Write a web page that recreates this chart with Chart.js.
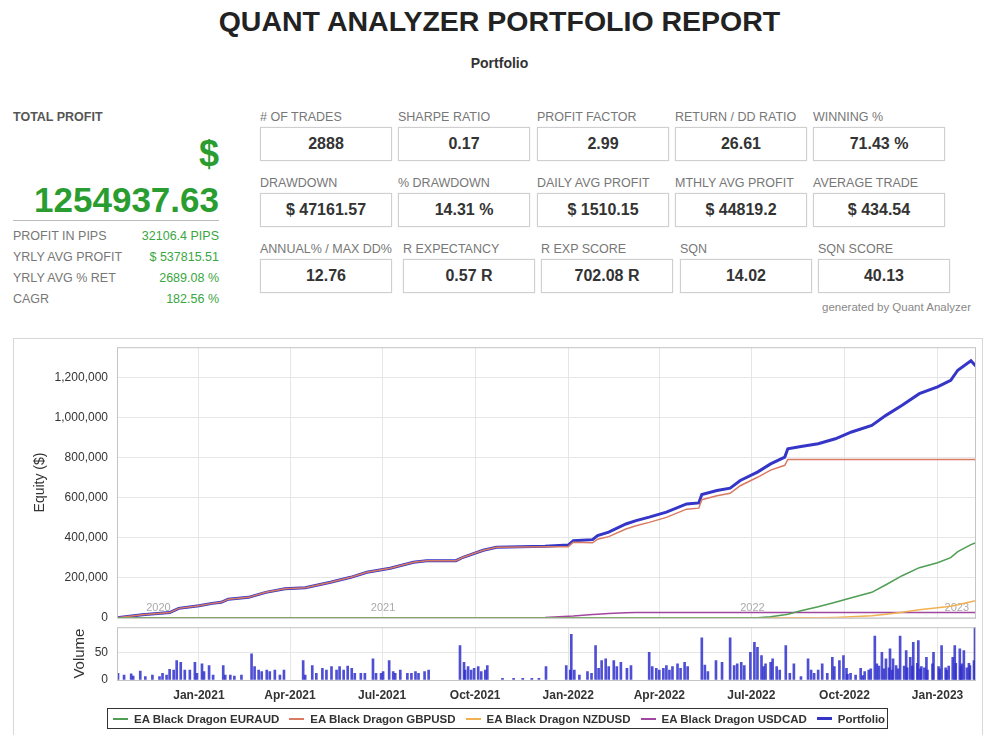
<!DOCTYPE html>
<html>
<head>
<meta charset="utf-8">
<script src="https://cdn.jsdelivr.net/npm/chart.js@4.4.0/dist/chart.umd.min.js"></script>
<style>
  body { margin: 0; width: 999px; height: 735px; overflow: hidden; background: #fff; position: relative;
         font-family: "Liberation Sans", Arial, sans-serif; }
  .abs { position: absolute; white-space: nowrap; }
  .title { left: 0; width: 999px; top: 5px; text-align: center; font-size: 28.5px; font-weight: bold; color: #222; }
  .sub { left: 0; width: 999px; top: 55px; text-align: center; font-size: 14px; font-weight: bold; color: #333; }
  .lbl { font-size: 12.5px; color: #777; }
  .box { border: 1px solid #cfcfcf; box-shadow: 0 0 1px #ddd; width: 130px; height: 32px; line-height: 32px;
         text-align: center; font-size: 16px; font-weight: bold; color: #333; }
  .green { color: #3aa63f; }
  #panel { left: 13px; top: 338px; width: 968px; height: 420px; border: 1px solid #d8d8d8; }
  #legend { left: 107px; top: 708px; width: 781px; height: 21px; border: 1px solid #333; display: flex;
            align-items: center; padding-left: 5px; box-sizing: border-box; font-size: 11.5px; font-weight: bold; color: #333; }
  #legend span.item { display: flex; align-items: center; margin-right: 10px; }
  #legend span.mark { display: inline-block; width: 15px; height: 2px; margin-right: 6px; }
</style>
</head>
<body>
<div class="abs title">QUANT ANALYZER PORTFOLIO REPORT</div>
<div class="abs sub">Portfolio</div>
<div id="left"></div>
<div id="stats"></div>
<div class="abs" style="left:822px;top:301px;font-size:11.5px;color:#888;">generated by Quant Analyzer</div>
<div class="abs" id="panel"></div>
<canvas id="equity" class="abs" width="970" height="303" style="left:13px;top:331px;"></canvas>
<canvas id="volume" class="abs" width="970" height="96" style="left:13px;top:611px;"></canvas>
<div class="abs" id="legend"></div>

<script>
// equity curves
const startDate = '2020-10-12';
const endDate = '2023-02-08';

const equityDates = [
  '2020-10-12', '2020-11-06', '2020-12-03', '2020-12-12', '2021-01-01', '2021-01-14', '2021-01-23',
  '2021-01-30', '2021-02-19', '2021-03-08', '2021-03-27', '2021-04-16', '2021-05-11', '2021-05-31',
  '2021-06-16', '2021-07-09', '2021-08-01', '2021-08-14', '2021-09-12', '2021-09-19', '2021-10-09',
  '2021-10-22', '2021-12-09', '2022-01-01', '2022-01-06', '2022-01-25', '2022-01-30', '2022-02-10',
  '2022-02-27', '2022-03-09', '2022-03-22', '2022-04-08', '2022-04-28', '2022-05-10', '2022-05-13',
  '2022-05-28', '2022-06-10', '2022-06-20', '2022-07-07', '2022-07-20', '2022-08-03', '2022-08-06',
  '2022-08-19', '2022-09-05', '2022-09-22', '2022-10-08', '2022-10-28', '2022-11-11', '2022-11-27',
  '2022-12-14', '2023-01-01', '2023-01-14', '2023-01-21', '2023-02-03', '2023-02-08'
];
const portfolio = [
  0, 15000, 26000, 47000, 60000, 72000, 77000,
  93000, 102000, 127000, 145000, 150000, 177000, 202000,
  227000, 247000, 277000, 285000, 285000, 302000, 337000,
  352000, 357000, 363000, 385000, 390000, 410000, 427000,
  468000, 485000, 502000, 527000, 568000, 573000, 615000,
  635000, 647000, 685000, 727000, 768000, 802000, 843000,
  855000, 868000, 893000, 927000, 960000, 1010000, 1060000,
  1118000, 1152000, 1185000, 1235000, 1282000, 1255000
];
const gbpUsd = [
  0, 15000, 26000, 47000, 60000, 72000, 77000,
  93000, 102000, 127000, 145000, 150000, 177000, 202000,
  227000, 247000, 277000, 285000, 285000, 302000, 337000,
  352000, 355000, 355000, 377000, 374000, 392000, 405000,
  443000, 459000, 476000, 501000, 542000, 547000, 589000,
  609000, 621000, 659000, 701000, 737000, 761000, 790000,
  790000, 790000, 790000, 790000, 790000, 790000, 790000,
  790000, 790000, 790000, 790000, 790000, 790000
];
const usdCad = [
  0, 0, 0, 0, 0, 0, 0,
  0, 0, 0, 0, 0, 0, 0,
  0, 0, 0, 0, 0, 0, 0,
  0, 2000, 8000, 9000, 16000, 18000, 22000,
  25000, 26000, 26000, 26000, 26000, 26000, 26000,
  26000, 26000, 26000, 26000, 26000, 26000, 26000,
  26000, 26000, 26000, 26000, 26000, 26000, 26000,
  26000, 26000, 26000, 26000, 26000, 26000
];
const eurAud = [
  0, 0, 0, 0, 0, 0, 0,
  0, 0, 0, 0, 0, 0, 0,
  0, 0, 0, 0, 0, 0, 0,
  0, 0, 0, 0, 0, 0, 0,
  0, 0, 0, 0, 0, 0, 0,
  0, 0, 0, 0, 5000, 15000, 18000,
  35000, 55000, 78000, 100000, 127000, 165000, 210000,
  250000, 275000, 300000, 330000, 365000, 375000
];
const nzdUsd = [
  0, 0, 0, 0, 0, 0, 0,
  0, 0, 0, 0, 0, 0, 0,
  0, 0, 0, 0, 0, 0, 0,
  0, 0, 0, 0, 0, 0, 0,
  0, 0, 0, 0, 0, 0, 0,
  0, 0, 0, 0, 0, 0, 0,
  0, 0, 2000, 5000, 10000, 18000, 28000,
  40000, 50000, 58000, 65000, 80000, 85000
];

// trades per day (volume panel)
const volDates = [
  '2020-10-13', '2020-10-19', '2020-10-26', '2020-10-28', '2020-11-04', '2020-11-09', '2020-11-16',
  '2020-11-23', '2020-11-26', '2020-11-30', '2020-12-03', '2020-12-07', '2020-12-10', '2020-12-14',
  '2020-12-18', '2020-12-23', '2020-12-28', '2020-12-30', '2021-01-04', '2021-01-06', '2021-01-11',
  '2021-01-15', '2021-01-25', '2021-01-27', '2021-02-01', '2021-02-05', '2021-02-12', '2021-02-22',
  '2021-02-25', '2021-03-01', '2021-03-04', '2021-03-09', '2021-03-12', '2021-03-17', '2021-03-22',
  '2021-03-26', '2021-04-14', '2021-04-16', '2021-04-23', '2021-04-27', '2021-05-03', '2021-05-07',
  '2021-05-12', '2021-05-17', '2021-05-20', '2021-05-24', '2021-05-28', '2021-06-01', '2021-06-04',
  '2021-06-10', '2021-06-14', '2021-06-22', '2021-06-25', '2021-06-30', '2021-07-02', '2021-07-08',
  '2021-07-12', '2021-07-14', '2021-07-19', '2021-07-26', '2021-07-30', '2021-08-03', '2021-08-06',
  '2021-08-12', '2021-08-16', '2021-09-16', '2021-09-20', '2021-09-21', '2021-09-24', '2021-09-27',
  '2021-09-30', '2021-10-04', '2021-10-07', '2021-10-11', '2021-10-13', '2021-10-28', '2021-11-08',
  '2021-11-17', '2021-11-26', '2021-12-03', '2021-12-10', '2021-12-30', '2022-01-03', '2022-01-04',
  '2022-01-07', '2022-01-12', '2022-01-20', '2022-01-24', '2022-01-28', '2022-01-31', '2022-02-03',
  '2022-02-07', '2022-02-10', '2022-02-15', '2022-02-18', '2022-02-22', '2022-02-28', '2022-03-04',
  '2022-03-22', '2022-03-25', '2022-03-29', '2022-04-01', '2022-04-05', '2022-04-08', '2022-04-11',
  '2022-04-14', '2022-04-19', '2022-04-22', '2022-04-26', '2022-04-29', '2022-05-13', '2022-05-16',
  '2022-05-19', '2022-05-27', '2022-06-02', '2022-06-10', '2022-06-14', '2022-06-17', '2022-06-21',
  '2022-06-24', '2022-06-30', '2022-07-04', '2022-07-07', '2022-07-11', '2022-07-13', '2022-07-15',
  '2022-07-20', '2022-07-22', '2022-07-26', '2022-07-29', '2022-08-04', '2022-08-08', '2022-08-12',
  '2022-08-19', '2022-08-26', '2022-08-29', '2022-09-01', '2022-09-05', '2022-09-09', '2022-09-14',
  '2022-09-19', '2022-09-21', '2022-09-26', '2022-09-30', '2022-10-03', '2022-10-04', '2022-10-07',
  '2022-10-12', '2022-10-17', '2022-10-19', '2022-10-21', '2022-10-25', '2022-10-27', '2022-10-31',
  '2022-11-02', '2022-11-04', '2022-11-07', '2022-11-09', '2022-11-11', '2022-11-14', '2022-11-15',
  '2022-11-17', '2022-11-18', '2022-11-21', '2022-11-23', '2022-11-25', '2022-11-29', '2022-12-01',
  '2022-12-02', '2022-12-05', '2022-12-07', '2022-12-08', '2022-12-12', '2022-12-13', '2022-12-15',
  '2022-12-16', '2022-12-19', '2022-12-21', '2022-12-22', '2022-12-27', '2022-12-28', '2023-01-02',
  '2023-01-03', '2023-01-05', '2023-01-09', '2023-01-10', '2023-01-12', '2023-01-16', '2023-01-18',
  '2023-01-19', '2023-01-23', '2023-01-24', '2023-01-25', '2023-01-27', '2023-01-30', '2023-02-01',
  '2023-02-02', '2023-02-06', '2023-02-07'
];
const volValues = [
  12, 9, 11, 7, 16, 6, 9,
  6, 12, 9, 19, 18, 35, 32,
  18, 18, 32, 12, 29, 15, 26,
  9, 26, 9, 9, 7, 9, 47,
  24, 18, 15, 18, 15, 18, 9,
  18, 35, 9, 26, 12, 21, 18,
  24, 18, 24, 18, 25, 21, 12,
  12, 12, 38, 12, 12, 15, 35,
  15, 12, 18, 12, 12, 15, 12,
  15, 18, 62, 32, 18, 24, 18,
  21, 24, 15, 18, 26, 3, 3,
  3, 3, 3, 24, 26, 18, 82,
  18, 9, 15, 12, 62, 21, 35,
  38, 24, 35, 24, 32, 21, 26,
  50, 24, 21, 18, 21, 26, 18,
  24, 29, 21, 32, 24, 76, 27,
  15, 35, 32, 76, 26, 29, 32,
  26, 50, 68, 59, 44, 24, 29,
  32, 38, 24, 18, 62, 12, 29,
  6, 38, 18, 12, 18, 29, 12,
  41, 24, 35, 44, 21, 10, 12,
  9, 21, 8, 15, 18, 20, 79,
  29, 25, 50, 20, 38, 22, 56,
  18, 38, 26, 20, 79, 25, 53,
  22, 41, 25, 68, 30, 71, 20,
  24, 22, 41, 18, 29, 50, 24,
  20, 62, 22, 18, 25, 41, 62,
  30, 56, 25, 29, 53, 22, 30,
  26, 35, 94
];

const monthTickDates = ['2021-01-01', '2021-04-01', '2021-07-01', '2021-10-01', '2022-01-01',
                        '2022-04-01', '2022-07-01', '2022-10-01', '2023-01-01'];
const monthTickLabels = ['Jan-2021', 'Apr-2021', 'Jul-2021', 'Oct-2021', 'Jan-2022',
                         'Apr-2022', 'Jul-2022', 'Oct-2022', 'Jan-2023'];
const equityTicks = [0, 200000, 400000, 600000, 800000, 1000000, 1200000];
const volumeTicks = [0, 50];
const yearLabels = ['2020', '2021', '2022', '2023'];
const yearLabelDates = ['2020-11-22', '2021-07-02', '2022-07-02', '2023-01-20'];

// header figures
const statLabels = [
  ['# OF TRADES', 'SHARPE RATIO', 'PROFIT FACTOR', 'RETURN / DD RATIO', 'WINNING %'],
  ['DRAWDOWN', '% DRAWDOWN', 'DAILY AVG PROFIT', 'MTHLY AVG PROFIT', 'AVERAGE TRADE'],
  ['ANNUAL% / MAX DD%', 'R EXPECTANCY', 'R EXP SCORE', 'SQN', 'SQN SCORE']
];
const statValues = [
  ['2888', '0.17', '2.99', '26.61', '71.43 %'],
  ['$ 47161.57', '14.31 %', '$ 1510.15', '$ 44819.2', '$ 434.54'],
  ['12.76', '0.57 R', '702.08 R', '14.02', '40.13']
];
const sideLabels = ['PROFIT IN PIPS', 'YRLY AVG PROFIT', 'YRLY AVG % RET', 'CAGR'];
const sideValues = ['32106.4 PIPS', '$ 537815.51', '2689.08 %', '182.56 %'];
const totalProfit = '1254937.63';

function day(s) {
  return (Date.parse(s) - Date.parse(startDate)) / 864e5;
}

// left column
let left = '<div class="abs" style="left:13px;top:110px;font-size:12.5px;font-weight:bold;color:#555;">TOTAL PROFIT</div>'
  + '<div class="abs green" style="right:780px;top:133px;font-size:36px;font-weight:bold;color:#2a9d30;">$</div>'
  + '<div class="abs" style="right:780px;top:180px;font-size:35px;font-weight:bold;color:#2a9d30;">' + totalProfit + '</div>'
  + '<div class="abs" style="left:13px;top:220px;width:206px;height:1px;background:#bbb;"></div>';
const sideY = [229, 250, 271, 292];
sideLabels.forEach(function (t, i) {
  left += '<div class="abs lbl" style="left:13px;top:' + sideY[i] + 'px;">' + t + '</div>'
    + '<div class="abs green" style="right:780px;top:' + sideY[i] + 'px;font-size:12.5px;">' + sideValues[i] + '</div>';
});
document.getElementById('left').innerHTML = left;

// stat boxes
const rowTop = [127, 193, 259];
const colX = [[260, 398, 537, 675, 813], [260, 398, 537, 675, 813], [260, 403, 541, 680, 818]];
let stats = '';
statLabels.forEach(function (row, r) {
  row.forEach(function (t, c) {
    stats += '<div class="abs lbl" style="left:' + colX[r][c] + 'px;top:' + (rowTop[r] - 17) + 'px;">' + t + '</div>'
      + '<div class="abs box" style="left:' + colX[r][c] + 'px;top:' + rowTop[r] + 'px;">' + statValues[r][c] + '</div>';
  });
});
document.getElementById('stats').innerHTML = stats;

Chart.defaults.font.family = '"Liberation Sans", Arial, sans-serif';
Chart.defaults.color = '#333';

const series = [
  { label: 'EA Black Dragon EURAUD', values: eurAud, color: '#4f9e53', width: 1.5 },
  { label: 'EA Black Dragon GBPUSD', values: gbpUsd, color: '#d97a62', width: 1.5 },
  { label: 'EA Black Dragon NZDUSD', values: nzdUsd, color: '#f0b24e', width: 1.5 },
  { label: 'EA Black Dragon USDCAD', values: usdCad, color: '#a1479f', width: 1.5 },
  { label: 'Portfolio', values: portfolio, color: '#3535c8', width: 3 }
];

const frame = {
  id: 'frame',
  afterDraw(chart) {
    const a = chart.chartArea;
    const ctx = chart.ctx;
    ctx.save();
    ctx.strokeStyle = '#c4c4c4';
    ctx.lineWidth = 1;
    ctx.strokeRect(a.left + 0.5, a.top + 0.5, a.right - a.left - 1, a.bottom - a.top);
    ctx.restore();
  }
};

const yearMarks = {
  id: 'yearMarks',
  beforeDatasetsDraw(chart) {
    const ctx = chart.ctx;
    const x = chart.scales.x;
    ctx.save();
    ctx.fillStyle = '#aaa';
    ctx.font = '11px "Liberation Sans", Arial, sans-serif';
    ctx.textAlign = 'center';
    ctx.textBaseline = 'middle';
    yearLabels.forEach(function (t, i) {
      ctx.fillText(t, x.getPixelForValue(day(yearLabelDates[i])), chart.chartArea.bottom - 10);
    });
    ctx.restore();
  }
};

const gridColor = '#e6e6e6';
const monthTicks = function (s) { s.ticks = monthTickDates.map(function (d) { return { value: day(d) }; }); };

new Chart(document.getElementById('equity'), {
  type: 'line',
  data: {
    datasets: series.map(function (s) {
      return {
        label: s.label,
        data: equityDates.map(function (d, i) { return { x: day(d), y: s.values[i] }; }),
        borderColor: s.color,
        borderWidth: s.width,
        pointRadius: 0,
        tension: 0,
        fill: false
      };
    })
  },
  options: {
    responsive: false,
    animation: false,
    layout: { padding: { top: 0, right: 7, bottom: 0, left: 0 } },
    plugins: { legend: { display: false }, tooltip: { enabled: false } },
    scales: {
      x: {
        type: 'linear',
        min: 0,
        max: day(endDate),
        afterBuildTicks: monthTicks,
        ticks: { display: false },
        grid: { color: gridColor, drawTicks: false },
        border: { display: false },
        afterFit: function (s) { s.height = 0; }
      },
      y: {
        min: 0,
        max: 1350000,
        afterBuildTicks: function (s) { s.ticks = equityTicks.map(function (v) { return { value: v }; }); },
        ticks: { padding: 9, font: { size: 12 }, autoSkip: false,
                 callback: function (v) { return v.toLocaleString('en-US'); } },
        grid: { color: gridColor, drawTicks: false },
        border: { display: false },
        title: { display: true, text: 'Equity ($)', font: { size: 14 }, padding: { top: 19, bottom: 0 } },
        afterFit: function (s) { s.width = 104; }
      }
    }
  },
  plugins: [frame, yearMarks]
});

new Chart(document.getElementById('volume'), {
  type: 'bar',
  data: {
    datasets: [{
      label: 'Volume',
      data: volDates.map(function (d, i) { return { x: day(d), y: volValues[i] }; }),
      backgroundColor: 'rgba(48, 48, 205, 0.85)',
      barThickness: 2
    }]
  },
  options: {
    responsive: false,
    animation: false,
    layout: { padding: { top: 0, right: 7, bottom: 0, left: 0 } },
    plugins: { legend: { display: false }, tooltip: { enabled: false } },
    scales: {
      x: {
        type: 'linear',
        min: 0,
        max: day(endDate),
        offset: false,
        afterBuildTicks: monthTicks,
        ticks: { padding: 8, maxRotation: 0, autoSkip: false, font: { size: 12, weight: 'bold' },
                 callback: function (v, i) { return monthTickLabels[i]; } },
        grid: { color: gridColor, drawTicks: false, offset: false },
        border: { display: false },
        afterFit: function (s) { s.height = 27; }
      },
      y: {
        min: 0,
        max: 95,
        afterBuildTicks: function (s) { s.ticks = volumeTicks.map(function (v) { return { value: v }; }); },
        ticks: { padding: 9, font: { size: 12 } },
        grid: { color: gridColor, drawTicks: false },
        border: { display: false },
        title: { display: true, text: 'Volume', font: { size: 15 }, padding: { top: 58, bottom: 0 } },
        afterFit: function (s) { s.width = 104; }
      }
    }
  },
  plugins: [frame]
});

// legend under the chart
document.getElementById('legend').innerHTML = series.map(function (s) {
  return '<span class="item"><span class="mark" style="background:' + s.color + ';height:' + (s.width > 2 ? 3 : 2) + 'px"></span>' + s.label + '</span>';
}).join('');
</script>
</body>
</html>
